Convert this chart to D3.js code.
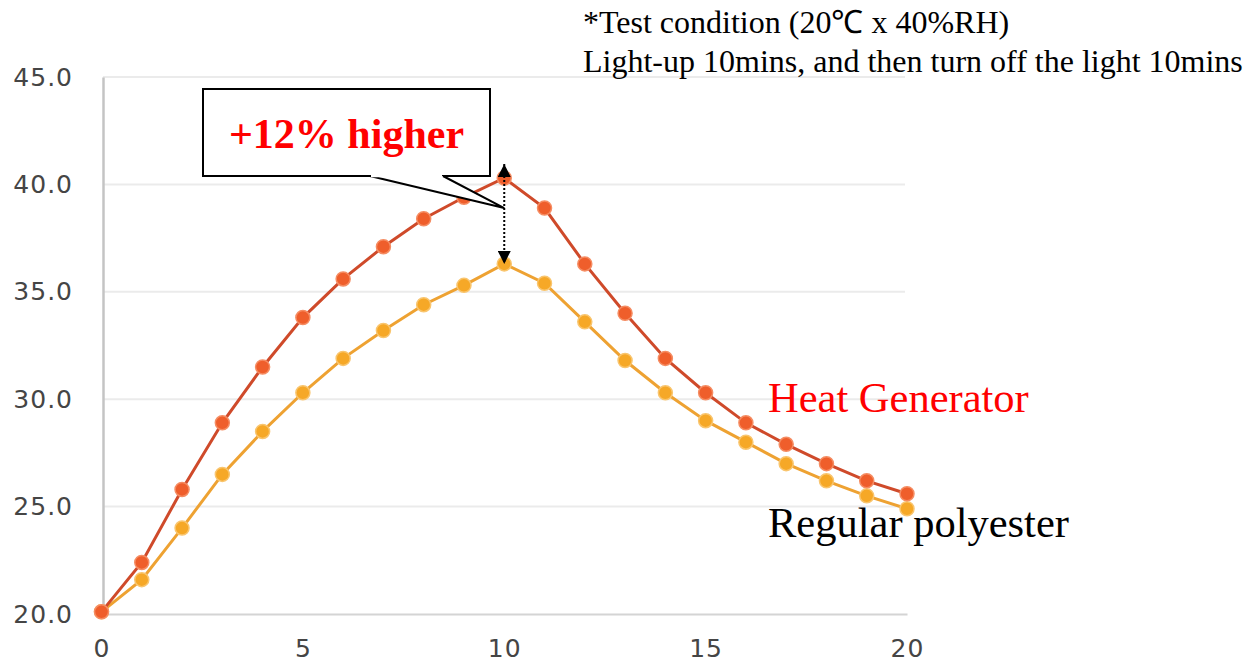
<!DOCTYPE html>
<html>
<head>
<meta charset="utf-8">
<script src="https://cdn.jsdelivr.net/npm/d3@7"></script>
<style>
    html, body { margin: 0; padding: 0; background: #fff; }
    svg { display: block; }
    .tick-label { font-family: "DejaVu Sans", sans-serif; font-size: 25px; fill: #454545; letter-spacing: 1px; }
    .serif { font-family: "Times New Roman", "Liberation Serif", serif; }
</style>
</head>
<body>
<div id="chart"></div>
<script>
// elapsed time (min) and temperature readings (°C)
const minutes = [0, 1, 2, 3, 4, 5, 6, 7, 8, 9, 10, 11, 12, 13, 14, 15, 16, 17, 18, 19, 20];
const heatGenerator = [20.1, 22.4, 25.8, 28.9, 31.5, 33.8, 35.6, 37.1, 38.4, 39.4, 40.3, 38.9, 36.3, 34.0, 31.9, 30.3, 28.9, 27.9, 27.0, 26.2, 25.6];
const regularPolyester = [20.1, 21.6, 24.0, 26.5, 28.5, 30.3, 31.9, 33.2, 34.4, 35.3, 36.3, 35.4, 33.6, 31.8, 30.3, 29.0, 28.0, 27.0, 26.2, 25.5, 24.9];
const yTicks = [20, 25, 30, 35, 40, 45];
const xTicks = [0, 5, 10, 15, 20];
const seriesNames = ["Heat Generator", "Regular polyester"];
const noteLines = ["*Test condition (20\u2103 x 40%RH)", "Light-up 10mins, and then turn off the light 10mins"];
const calloutText = "+12% higher";
const peakMinute = 10;

const width = 1251, height = 663;

const svg = d3.select("#chart")
    .append("svg")
    .attr("width", width)
    .attr("height", height);

const x = d3.scaleLinear().domain([0, 20]).range([101.5, 907]);
const y = d3.scaleLinear().domain([20, 45]).range([614, 77]);

// gridlines
svg.append("g")
    .selectAll("line")
    .data(yTicks.filter(d => d !== 20))
    .enter().append("line")
    .attr("x1", 103)
    .attr("x2", 905)
    .attr("y1", d => y(d))
    .attr("y2", d => y(d))
    .style("stroke", "#ebebeb")
    .style("stroke-width", 2);

// axes
const yAxis = svg.append("g")
    .attr("transform", "translate(103,0)")
    .call(d3.axisLeft(y).tickValues(yTicks).tickFormat(d3.format(".1f")).tickSize(0).tickPadding(30));

const xAxis = svg.append("g")
    .attr("transform", `translate(0,${y(20)})`)
    .call(d3.axisBottom(x).tickValues(xTicks).tickSize(0).tickPadding(25));

yAxis.select(".domain").style("stroke", "#c4c4c4").style("stroke-width", 2.5);
xAxis.select(".domain").style("stroke", "#d4d4d4").style("stroke-width", 2);
svg.selectAll(".tick text").attr("class", "tick-label").attr("font-family", null).attr("font-size", null);

// series
const line = d3.line()
    .x((d, i) => x(minutes[i]))
    .y(d => y(d));

const series = [
    { values: regularPolyester, line: "#eea232", fill: "#f6a827", rim: "#f9c56e" },
    { values: heatGenerator, line: "#cf4a2a", fill: "#ef5e2b", rim: "#f58c62" }
];

series.forEach(s => {
    const g = svg.append("g");
    g.append("path")
        .datum(s.values)
        .attr("d", line)
        .style("fill", "none")
        .style("stroke", s.line)
        .style("stroke-width", 3);
    g.selectAll("circle")
        .data(s.values)
        .enter().append("circle")
        .attr("cx", (d, i) => x(minutes[i]))
        .attr("cy", d => y(d))
        .attr("r", 7)
        .style("fill", s.fill)
        .style("stroke", s.rim)
        .style("stroke-width", 1.5);
});

// dotted double arrow between the peaks
const defs = svg.append("defs");
defs.append("marker")
    .attr("id", "head")
    .attr("viewBox", "0 0 10 10")
    .attr("refX", 10)
    .attr("refY", 5)
    .attr("markerUnits", "userSpaceOnUse")
    .attr("markerWidth", 15)
    .attr("markerHeight", 13)
    .attr("orient", "auto-start-reverse")
    .append("path")
    .attr("d", "M0,0L10,5L0,10Z")
    .style("fill", "#000");

const peakIdx = minutes.indexOf(peakMinute);
svg.append("line")
    .attr("x1", x(peakMinute))
    .attr("x2", x(peakMinute))
    .attr("y1", y(heatGenerator[peakIdx]) - 14)
    .attr("y2", y(regularPolyester[peakIdx]))
    .attr("marker-start", "url(#head)")
    .attr("marker-end", "url(#head)")
    .style("stroke", "#000")
    .style("stroke-width", 2)
    .style("stroke-dasharray", "2,2");

// callout box
const box = { x0: 203, x1: 490, y0: 89, y1: 176 };
const tip = [x(peakMinute), y(38.9)];

svg.append("rect")
    .attr("x", box.x0)
    .attr("y", box.y0)
    .attr("width", box.x1 - box.x0)
    .attr("height", box.y1 - box.y0)
    .style("fill", "#fff")
    .style("stroke", "#000")
    .style("stroke-width", 2);

svg.append("path")
    .attr("d", `M370,${box.y1}L${tip[0]},${tip[1]}L443,${box.y1}`)
    .style("fill", "#fff")
    .style("stroke", "#000")
    .style("stroke-width", 2);

svg.append("line")
    .attr("x1", 371)
    .attr("x2", 442)
    .attr("y1", box.y1)
    .attr("y2", box.y1)
    .style("stroke", "#fff")
    .style("stroke-width", 2.5);

svg.append("text")
    .attr("class", "serif")
    .attr("x", (box.x0 + box.x1) / 2)
    .attr("y", 148)
    .attr("text-anchor", "middle")
    .style("font-size", "42px")
    .style("font-weight", "bold")
    .style("fill", "#ff0000")
    .text(calloutText);

// series labels
svg.append("text")
    .attr("class", "serif")
    .attr("x", 768)
    .attr("y", 412)
    .style("font-size", "42.5px")
    .style("fill", "#ff0000")
    .text(seriesNames[0]);

svg.append("text")
    .attr("class", "serif")
    .attr("x", 768)
    .attr("y", 537)
    .style("font-size", "42.5px")
    .style("fill", "#000")
    .text(seriesNames[1]);

// test conditions note
svg.append("g")
    .selectAll("text")
    .data(noteLines)
    .enter().append("text")
    .attr("class", "serif")
    .attr("x", 583)
    .attr("y", (d, i) => 33 + i * 39)
    .style("font-size", "32px")
    .style("fill", "#000")
    .text(d => d);
</script>
</body>
</html>
